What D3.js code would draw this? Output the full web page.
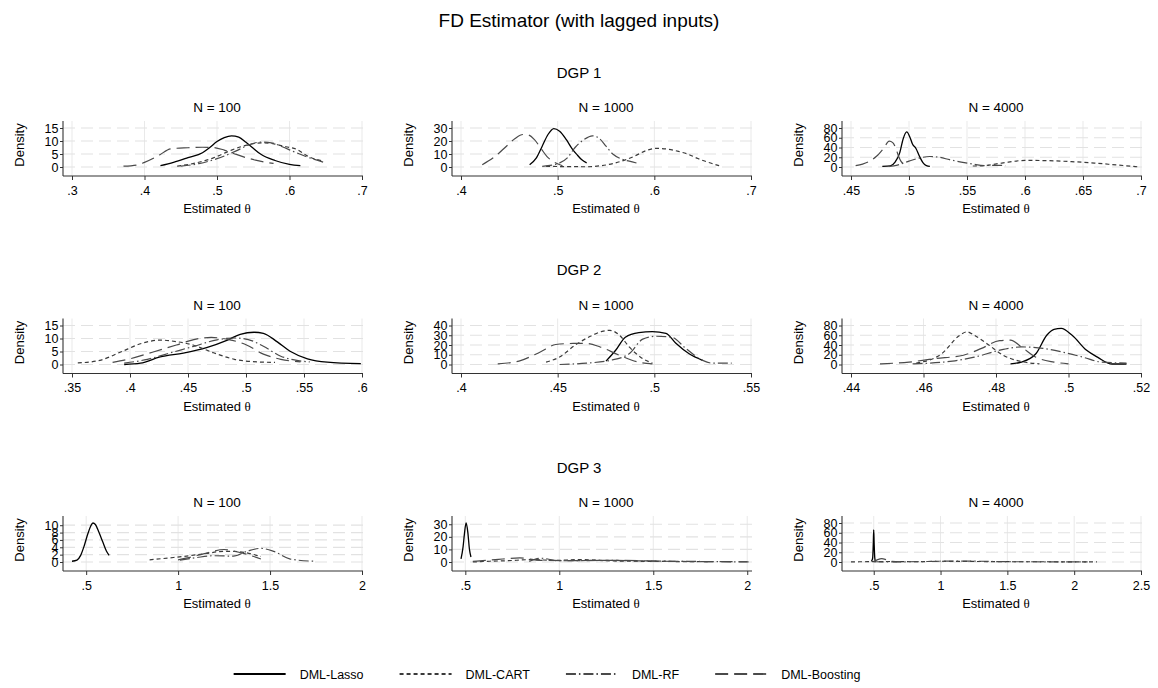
<!DOCTYPE html>
<head>
<meta charset="utf-8">
<script src="https://cdn.jsdelivr.net/npm/d3@7"></script>
<title>FD Estimator (with lagged inputs)</title>
<style>
  body { margin: 0; background: #fff; }
  svg text { font-family: "Liberation Sans", Arial, sans-serif; fill: #000; }
</style>
</head>
<body>
<div id="chart"></div>
<script>
// ---- text ----
const mainTitle = "FD Estimator (with lagged inputs)";
const dgpLabels = ["DGP 1", "DGP 2", "DGP 3"];
const nLabels = ["N = 100", "N = 1000", "N = 4000"];
const seriesNames = ["DML-Lasso", "DML-CART", "DML-RF", "DML-Boosting"];

// ---- tick values, per panel (row = DGP, col = N) ----
const xTicks = [
  [[.3, .4, .5, .6, .7], [.4, .5, .6, .7], [.45, .5, .55, .6, .65, .7]],
  [[.35, .4, .45, .5, .55, .6], [.4, .45, .5, .55], [.44, .46, .48, .5, .52]],
  [[.5, 1, 1.5, 2], [.5, 1, 1.5, 2], [.5, 1, 1.5, 2, 2.5]]
];
const yTicks = [
  [[0, 5, 10, 15], [0, 10, 20, 30], [0, 20, 40, 60, 80]],
  [[0, 5, 10, 15], [0, 10, 20, 30, 40], [0, 20, 40, 60, 80]],
  [[0, 2, 4, 6, 8, 10], [0, 10, 20, 30], [0, 20, 40, 60, 80]]
];

// ---- density estimates, [theta, density] ----
// DGP 1
const d1n100Lasso = [[.422,.5],[.44,1.8],[.46,3.6],[.48,5.5],[.49,7.5],[.50,9.8],[.51,11.3],[.52,12],[.53,11.5],[.54,9.5],[.55,7.2],[.56,5],[.58,2.5],[.60,1.0],[.615,.5]];
const d1n100Cart = [[.445,.3],[.47,1.5],[.495,3.5],[.52,6.5],[.545,8.7],[.565,9.3],[.58,8.8],[.595,7.8],[.61,6.8],[.625,4.2],[.647,2.2]];
const d1n100Rf = [[.45,.3],[.475,1.3],[.50,3.2],[.525,6],[.545,8.6],[.56,9.6],[.575,9.3],[.59,7.8],[.605,6],[.625,3.8],[.65,1.6]];
const d1n100Boost = [[.371,.3],[.39,.8],[.40,1.8],[.42,4.5],[.436,7],[.46,7.4],[.48,7.6],[.495,7.5],[.51,6.5],[.523,5.2],[.54,3.6],[.551,2.8],[.565,1.9],[.578,1.4]];

const d1n1000Lasso = [[.471,1.8],[.478,7],[.484,16],[.49,25],[.496,29.5],[.502,27.5],[.509,21],[.515,14],[.52,9.5],[.525,5.5],[.53,3.2]];
const d1n1000Cart = [[.488,.5],[.51,.3],[.53,.2],[.545,1],[.557,2.6],[.57,5.5],[.58,8.5],[.591,12.5],[.602,14.3],[.615,13.6],[.625,12],[.636,9.5],[.645,6.5],[.655,3.8],[.667,1]];
const d1n1000Rf = [[.484,.5],[.50,2.5],[.51,7],[.518,15],[.527,21],[.536,24],[.543,22],[.55,16],[.557,10],[.565,6.5],[.574,4.5],[.582,3]];
const d1n1000Boost = [[.422,1.8],[.435,8],[.447,16],[.456,22],[.464,25],[.47,24.5],[.476,21],[.483,14],[.489,8],[.495,4.4],[.505,1]];

const d1n4000Lasso = [[.477,1.4],[.484,2.5],[.488,10],[.492,29],[.495,58],[.498,72],[.501,60],[.503,47],[.506,38],[.509,22],[.512,9],[.515,3],[.518,1.4]];
const d1n4000Cart = [[.555,2],[.565,3],[.58,8],[.60,13.5],[.62,13],[.64,11],[.66,8],[.68,4],[.697,.5]];
const d1n4000Rf = [[.483,1],[.49,4],[.50,12],[.51,19],[.518,21.5],[.526,20],[.535,15],[.545,10],[.555,6],[.565,3],[.575,3.5],[.583,3]];
const d1n4000Boost = [[.454,2.8],[.46,6],[.466,12],[.472,22],[.478,38],[.483,53],[.486,50],[.489,36],[.491,22],[.493,12],[.496,5],[.498,2.8]];

// DGP 2
const d2n100Lasso = [[.395,0],[.409,.5],[.426,2.9],[.446,4.4],[.466,6.5],[.484,9.4],[.495,11.6],[.507,12.4],[.515,12],[.527,8.7],[.538,5.1],[.553,2.2],[.57,.9],[.599,.3]];
const d2n100Cart = [[.355,.6],[.374,1.6],[.392,4.8],[.41,8.1],[.426,9.4],[.44,8.8],[.455,7.4],[.472,4.5],[.49,2],[.51,1],[.525,.8]];
const d2n100Rf = [[.395,.5],[.415,2],[.435,4.5],[.455,7],[.475,9.5],[.49,10.2],[.502,9.6],[.515,7],[.53,3.2],[.545,1.5],[.555,1]];
const d2n100Boost = [[.385,.8],[.40,2.2],[.42,4.8],[.44,7.5],[.455,9.6],[.47,10.4],[.485,9.6],[.50,7.6],[.515,4],[.53,2],[.547,1]];

const d2n1000Lasso = [[.475,3.5],[.48,14.6],[.485,28],[.492,32.7],[.499,33.7],[.506,32],[.511,22],[.518,11],[.525,4.2]];
const d2n1000Cart = [[.444,2.4],[.451,7.7],[.459,19.8],[.468,30],[.473,34],[.477,35],[.482,30],[.487,18],[.494,6],[.499,1.4]];
const d2n1000Rf = [[.451,0],[.465,1.4],[.477,4.2],[.487,11],[.494,26],[.501,29],[.509,28],[.516,17],[.525,4.2],[.53,1.4],[.54,1.4]];
const d2n1000Boost = [[.419,.7],[.43,3.5],[.441,12.9],[.449,20.5],[.458,21.6],[.465,21.6],[.472,18],[.482,9.4],[.492,2.4],[.499,.7]];

const d2n4000Lasso = [[.484,1.4],[.487,4.9],[.491,22],[.494,60],[.496,72],[.498,74],[.501,60],[.505,29],[.508,15],[.512,1],[.516,1]];
const d2n4000Cart = [[.458,2.8],[.465,22],[.47,60],[.472,67],[.474,60],[.478,40],[.482,19],[.487,6],[.492,1.4]];
const d2n4000Rf = [[.457,1.4],[.468,7],[.474,15],[.482,31],[.487,36],[.493,33],[.498,26],[.504,15],[.509,5],[.516,2.8]];
const d2n4000Boost = [[.448,1.4],[.456,4.9],[.463,12],[.471,19],[.476,33],[.481,49],[.484,50],[.487,36],[.491,15],[.496,5],[.50,1.4]];

// DGP 3
const d3n100Lasso = [[.423,.2],[.45,.5],[.47,1.8],[.49,4.5],[.51,7.8],[.525,9.8],[.537,10.6],[.55,10.2],[.57,8],[.59,5.5],[.61,3],[.625,1.8]];
const d3n100Cart = [[.845,.6],[.95,1.1],[1.03,1.5],[1.15,2.3],[1.25,2.9],[1.3,2.9],[1.39,2.3],[1.45,1.5]];
const d3n100Rf = [[1.01,.5],[1.1,1.2],[1.19,1.7],[1.3,1.6],[1.38,3],[1.45,3.7],[1.52,2.9],[1.61,.8],[1.74,.2]];
const d3n100Boost = [[1.0,.6],[1.05,1.1],[1.16,2.5],[1.25,3.4],[1.3,3.0],[1.38,2],[1.45,.8]];

const d3n1000Lasso = [[.477,2.4],[.488,12],[.495,22],[.504,31],[.513,24],[.522,10],[.53,4]];
const d3n1000Cart = [[.54,0],[.63,.6],[.72,1],[.86,1.9],[.97,1.3],[1.11,1.9],[1.29,.8],[1.5,.5],[1.8,.2]];
const d3n1000Rf = [[.84,.5],[.9,3],[1.0,1],[1.25,1.3],[1.47,.8],[1.83,.3],[2.02,0]];
const d3n1000Boost = [[.54,.5],[.66,1.9],[.79,3.2],[.9,1.3],[1.1,1.1],[1.3,1.3],[1.6,.5],[2.0,.2]];

const d3n4000Lasso = [[.483,1.4],[.492,8],[.497,40],[.50,66],[.503,40],[.508,8],[.513,1.4]];
const d3n4000Cart = [[.33,.3],[.45,.6],[.6,1],[.8,.5],[1.0,1.5],[1.2,1.2],[1.4,.8],[1.6,.5],[1.8,.5],[2.0,.3],[2.17,.1]];
const d3n4000Rf = [[.5,.5],[.7,.4],[.9,1],[1.1,2],[1.3,1.5],[1.5,.6],[1.8,.4],[2.1,.2]];
const d3n4000Boost = [[.50,1],[.53,5],[.56,7],[.59,5],[.62,1.5],[.70,.5]];

const panelSeries = [
  [[d1n100Lasso, d1n100Cart, d1n100Rf, d1n100Boost],
   [d1n1000Lasso, d1n1000Cart, d1n1000Rf, d1n1000Boost],
   [d1n4000Lasso, d1n4000Cart, d1n4000Rf, d1n4000Boost]],
  [[d2n100Lasso, d2n100Cart, d2n100Rf, d2n100Boost],
   [d2n1000Lasso, d2n1000Cart, d2n1000Rf, d2n1000Boost],
   [d2n4000Lasso, d2n4000Cart, d2n4000Rf, d2n4000Boost]],
  [[d3n100Lasso, d3n100Cart, d3n100Rf, d3n100Boost],
   [d3n1000Lasso, d3n1000Cart, d3n1000Rf, d3n1000Boost],
   [d3n4000Lasso, d3n4000Cart, d3n4000Rf, d3n4000Boost]]
];

// ---- style ----
const seriesColor = ["#000", "#3a3a3a", "#4a4a4a", "#4a4a4a"];
const seriesDash = [null, "4,3", "10,3,1.5,3", "13,6"];
const axisColor = "#333";

// ---- layout ----
const width = 1158, height = 688;
const colLeft = [63, 452, 842];
const rowBottom = [176, 373.5, 571];
const plotW = 300, plotH = 55;

const svg = d3.select("#chart").append("svg")
  .attr("width", width)
  .attr("height", height);

svg.append("text")
  .attr("x", width / 2).attr("y", 27)
  .attr("text-anchor", "middle")
  .style("font-size", "19px")
  .text(mainTitle);

const fmt = d => d3.format("~g")(d).replace(/^0\./, ".");

dgpLabels.forEach((lab, r) => {
  svg.append("text")
    .attr("x", width / 2).attr("y", rowBottom[r] - 98.5)
    .attr("text-anchor", "middle")
    .style("font-size", "15px")
    .text(lab);

  nLabels.forEach((nl, c) => {
    const L = colLeft[c], B = rowBottom[r];
    const series = panelSeries[r][c];
    const all = series.flat();
    const xt = xTicks[r][c], yt = yTicks[r][c];

    const x = d3.scaleLinear()
      .domain([Math.min(xt[0], d3.min(all, d => d[0])), Math.max(xt[xt.length - 1], d3.max(all, d => d[0]))])
      .range([L + 9, L + plotW - 1]);
    const y = d3.scaleLinear()
      .domain([0, Math.max(yt[yt.length - 1], d3.max(all, d => d[1]))])
      .range([B - 9, B - 48]);

    const g = svg.append("g");

    // grid
    g.selectAll(".vgrid").data(xt).enter().append("line")
      .attr("x1", d => x(d)).attr("x2", d => x(d))
      .attr("y1", B - plotH).attr("y2", B)
      .attr("stroke", "#e9e9e9").attr("stroke-width", 1);
    g.selectAll(".hgrid").data(yt).enter().append("line")
      .attr("x1", L).attr("x2", L + plotW)
      .attr("y1", d => y(d)).attr("y2", d => y(d))
      .attr("stroke", "#e2e2e2").attr("stroke-width", 1.2)
      .attr("stroke-dasharray", "12,6");

    // curves
    const line = d3.line().x(d => x(d[0])).y(d => y(d[1])).curve(d3.curveMonotoneX);
    series.forEach((s, i) => {
      g.append("path")
        .attr("d", line(s))
        .attr("fill", "none")
        .attr("stroke", seriesColor[i])
        .attr("stroke-width", i === 0 ? 1.3 : 1.2)
        .attr("stroke-dasharray", seriesDash[i]);
    });

    // axes
    const xa = g.append("g").attr("transform", `translate(0,${B})`)
      .call(d3.axisBottom(x).tickValues(xt).tickFormat(fmt).tickSize(4).tickPadding(6));
    const ya = g.append("g").attr("transform", `translate(${L},0)`)
      .call(d3.axisLeft(y).tickValues(yt).tickFormat(fmt).tickSize(3).tickPadding(1.5));
    [xa, ya].forEach(a => {
      a.select(".domain").remove();
      a.selectAll("line").attr("stroke", axisColor);
      a.selectAll("text").style("font-size", "12.5px").attr("fill", "#000")
        .style("font-family", "'Liberation Sans', Arial, sans-serif");
    });
    g.append("line").attr("x1", L).attr("x2", L + plotW).attr("y1", B).attr("y2", B)
      .attr("stroke", axisColor).attr("stroke-width", 1.1);
    g.append("line").attr("x1", L).attr("x2", L).attr("y1", B - plotH).attr("y2", B)
      .attr("stroke", axisColor).attr("stroke-width", 1.1);

    // titles
    g.append("text")
      .attr("x", L + 154).attr("y", B - 64)
      .attr("text-anchor", "middle")
      .style("font-size", "13.5px")
      .text(nl);
    const xl = g.append("text")
      .attr("x", L + 154).attr("y", B + 37)
      .attr("text-anchor", "middle")
      .style("font-size", "13px")
      .text("Estimated ");
    xl.append("tspan").style("font-family", "'Liberation Serif', serif").text("θ");
    g.append("text")
      .attr("transform", `translate(${L - 39},${B - 31}) rotate(-90)`)
      .attr("text-anchor", "middle")
      .style("font-size", "13px")
      .text("Density");
  });
});

// ---- legend ----
const legY = 674;
const legend = svg.append("g");
let lx = 0;
seriesNames.forEach((name, i) => {
  const item = legend.append("g").attr("transform", `translate(${lx},0)`);
  item.append("line")
    .attr("x1", 0).attr("x2", 52).attr("y1", legY).attr("y2", legY)
    .attr("stroke", seriesColor[i])
    .attr("stroke-width", 1.8)
    .attr("stroke-dasharray", seriesDash[i]);
  const t = item.append("text")
    .attr("x", 66).attr("y", legY + 4.5)
    .style("font-size", "12.5px")
    .text(name);
  lx += 66 + t.node().getComputedTextLength() + 36;
});
const legW = lx - 36;
legend.attr("transform", `translate(${(width - legW) / 2 - 32},0)`);
</script>
</body>
